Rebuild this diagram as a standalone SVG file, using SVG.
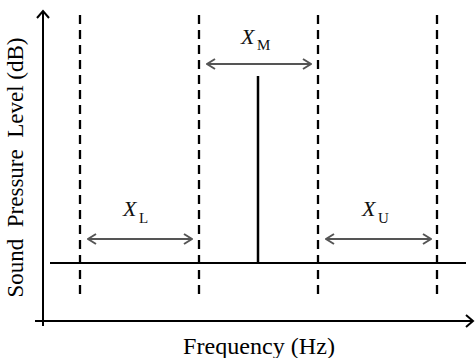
<svg xmlns="http://www.w3.org/2000/svg" width="476" height="358" viewBox="0 0 476 358">
<style>
.axis{stroke:#000;stroke-width:2;fill:none}
.dash{stroke:#000;stroke-width:2.3;stroke-dasharray:9 6;fill:none}
.dim{stroke:#555;stroke-width:2;fill:none}
.it{font-style:italic;font-size:22px}
.sub{font-size:15px}
</style>
<defs>
<marker id="ah" markerUnits="userSpaceOnUse" viewBox="0 0 10 12" markerWidth="10" markerHeight="12" refX="9" refY="6" orient="auto-start-reverse">
<path d="M1,1 L9,6 L1,11" stroke="#555" stroke-width="2" fill="none"/>
</marker>
</defs>
<rect width="476" height="358" fill="#fff"/>
<g id="connectors">
<g id="axes">
<line class="axis" x1="43" y1="326" x2="43" y2="11"/>
<polyline class="axis" points="37,18 43,11 49,18"/>
<line class="axis" x1="35" y1="321" x2="473" y2="321"/>
<polyline class="axis" points="466,315 473,321 466,327"/>
</g>
<g id="dashed-lines">
<line class="dash" x1="80" y1="15" x2="80" y2="300"/>
<line class="dash" x1="199" y1="15" x2="199" y2="300"/>
<line class="dash" x1="318" y1="15" x2="318" y2="300"/>
<line class="dash" x1="437" y1="15" x2="437" y2="300"/>
</g>
<g id="spectrum">
<line class="axis" x1="50" y1="263" x2="466" y2="263"/>
<line stroke="#000" stroke-width="2.5" x1="258" y1="76" x2="258" y2="263"/>
</g>
<g id="dimension-arrows">
<line class="dim" x1="207" y1="64" x2="311" y2="64" marker-start="url(#ah)" marker-end="url(#ah)"/>
<line class="dim" x1="88" y1="239" x2="192" y2="239" marker-start="url(#ah)" marker-end="url(#ah)"/>
<line class="dim" x1="326" y1="239" x2="431" y2="239" marker-start="url(#ah)" marker-end="url(#ah)"/>
</g>
</g>
<g id="label-XM" font-family="Liberation Serif, serif" fill="#111">
<text class="it" x="241" y="44">X</text>
<text class="sub" x="257" y="50">M</text>
</g>
<g id="label-XL" font-family="Liberation Serif, serif" fill="#111">
<text class="it" x="123" y="216">X</text>
<text class="sub" x="139" y="223">L</text>
</g>
<g id="label-XU" font-family="Liberation Serif, serif" fill="#111">
<text class="it" x="362" y="216">X</text>
<text class="sub" x="378" y="223">U</text>
</g>
<g id="x-axis-title" font-family="Liberation Serif, serif" fill="#000">
<text x="183" y="354" font-size="24" textLength="152" lengthAdjust="spacingAndGlyphs">Frequency (Hz)</text>
</g>
<g id="y-axis-title" font-family="Liberation Serif, serif" fill="#000">
<text transform="translate(23,167.5) rotate(-90)" text-anchor="middle" font-size="23" xml:space="preserve">Sound  Pressure  Level (dB)</text>
</g>
</svg>
